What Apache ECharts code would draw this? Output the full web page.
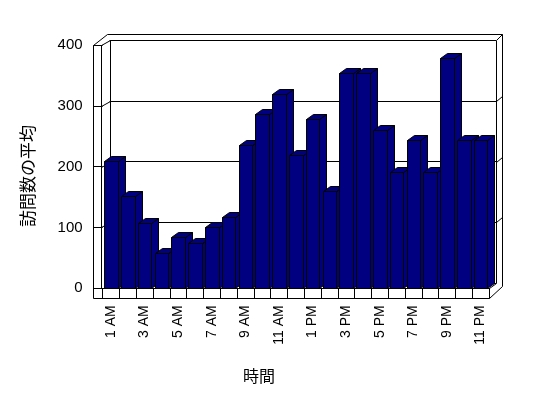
<!DOCTYPE html>
<html><head><meta charset="utf-8">
<script src="https://cdn.jsdelivr.net/npm/echarts@6/dist/echarts.min.js"></script>
<style>html,body{margin:0;padding:0;background:#fff}#c{width:548px;height:398px}</style>
</head><body><div id="c"></div>
<script>
// ---- data ----
const categories = ['1 AM','2 AM','3 AM','4 AM','5 AM','6 AM','7 AM','8 AM','9 AM','10 AM','11 AM','12 PM',
  '1 PM','2 PM','3 PM','4 PM','5 PM','6 PM','7 PM','8 PM','9 PM','10 PM','11 PM'];
const visits = [210,151,108,58,84,74,100,117,235,286,319,219,278,160,354,354,260,192,243,192,378,243,243];
const yTicks = [0,100,200,300,400];
const xTitle = '時間';
const yTitle = '訪問数の平均';

// ---- layout ----
const GL = 102.6, GW = 386.4, GT = 45, GH = 243.3;
const DX = 7, DY = 5;          // depth offset of bars / back wall
const OUTX = 93, FLOORB = 298; // outer wall / floor
const NAVY = '#000080';
const NUMFONT = '"Liberation Sans", Arial, sans-serif';
const JPFONT = '"Noto Sans CJK JP", sans-serif';

const chart = echarts.init(document.getElementById('c'), null, {renderer:'canvas'});
const px = v => Math.round(v) + 0.5;

const option = {
  animation: false,
  backgroundColor: '#fff',
  grid: [
    {left: GL, top: GT, width: GW, height: GH, containLabel: false, outerBoundsMode: 'none'},
    {left: GL + DX, top: GT - DY, width: GW, height: GH, containLabel: false, outerBoundsMode: 'none'}
  ],
  xAxis: [
    {type: 'category', gridIndex: 0, data: categories, boundaryGap: true,
     axisLine: {show: true, lineStyle: {color: '#000', width: 1}},
     axisTick: {show: true, length: 10, interval: 0, lineStyle: {color: '#000'}},
     axisLabel: {interval: 1, rotate: 90, margin: 17, color: '#000', fontSize: 14, fontFamily: NUMFONT},
     splitLine: {show: false}},
    {type: 'value', gridIndex: 1, show: false, min: 0, max: 1}
  ],
  yAxis: [
    {type: 'value', gridIndex: 0, min: yTicks[0], max: yTicks[yTicks.length-1], interval: 100,
     axisLine: {show: false},
     axisTick: {show: true, length: 9, lineStyle: {color: '#000'}},
     axisLabel: {margin: 20, color: '#000', fontSize: 15, fontFamily: NUMFONT},
     splitLine: {show: false}},
    {type: 'value', gridIndex: 1, min: yTicks[0], max: yTicks[yTicks.length-1], interval: 100,
     axisLine: {show: false}, axisTick: {show: false}, axisLabel: {show: false},
     splitLine: {show: true, lineStyle: {color: '#000', width: 1}}}
  ],
  series: [{
    type: 'custom', xAxisIndex: 0, yAxisIndex: 0, z: 5,
    data: visits.map((v, i) => [i, v]),
    encode: {x: 0, y: 1},
    renderItem: function (params, api) {
      const i = api.value(0), v = api.value(1);
      const topP = api.coord([i, v]);
      const baseP = api.coord([i, 0]);
      const bw = api.size([1, 0])[0] * 0.8;
      const l = px(topP[0] - bw / 2), r = px(topP[0] + bw / 2);
      const t = px(topP[1]), b = px(baseP[1]);
      const st = {fill: NAVY, stroke: '#000', lineWidth: 1};
      return {type: 'group', children: [
        {type: 'polygon', shape: {points: [[r, t], [r + DX, t - DY], [r + DX, b - DY], [r, b]]}, style: st},
        {type: 'polygon', shape: {points: [[l, t], [l + DX, t - DY], [r + DX, t - DY], [r, t]]}, style: st},
        {type: 'rect', shape: {x: l, y: t, width: r - l, height: b - t}, style: st}
      ]};
    }
  }]
};
chart.setOption(option);

// frame drawn from the axes' pixel positions
const fp = v => chart.convertToPixel({gridIndex: 0}, [0, v]);
const bp = v => chart.convertToPixel({gridIndex: 1}, [0, v]);
const gRight = GL + GW, bLeft = GL + DX, bRight = GL + GW + DX;
const yTop = chart.convertToPixel({yAxisIndex: 0}, 400);
const yZero = chart.convertToPixel({yAxisIndex: 0}, 0);
const byTop = chart.convertToPixel({yAxisIndex: 1}, 400);
const byZero = chart.convertToPixel({yAxisIndex: 1}, 0);
const outR = bRight + 6;
const L = pts => ({type: 'polyline', z: 1, shape: {points: pts.map(p => [px(p[0]), px(p[1])])},
  style: {stroke: '#000', lineWidth: 1, fill: null}});
const inL = GL - 1.2;
const g = [
  L([[OUTX, FLOORB], [OUTX, yTop], [OUTX + 14, byTop - 6], [outR, byTop - 6], [outR, FLOORB - 12], [gRight, FLOORB], [OUTX, FLOORB]]),
  L([[OUTX, yTop], [inL, yTop], [inL, yZero], [gRight, yZero]]),
  L([[inL, yTop], [bLeft, byTop]]),
  L([[bLeft, byTop], [bLeft, byZero]]),
  L([[bRight, byTop], [bRight, byZero]]),
  L([[bRight, byTop], [outR, byTop - 6]]),
  L([[gRight, yZero], [gRight, FLOORB]]),
  L([[gRight, yZero], [bRight, byZero]]),
];
yTicks.slice(1, -1).forEach(v => {
  const yf = chart.convertToPixel({yAxisIndex: 0}, v);
  const yb = chart.convertToPixel({yAxisIndex: 1}, v);
  g.push(L([[inL, yf], [bLeft, yb]]));
  g.push(L([[bRight, yb], [outR, yb - 5]]));
});
g.push({type: 'text', z: 10, x: 259, y: 376, style: {text: xTitle, align: 'center', verticalAlign: 'middle',
  font: '16px ' + JPFONT, fill: '#000'}});
g.push({type: 'text', z: 10, x: 28, y: 176, rotation: Math.PI / 2, style: {text: yTitle, align: 'center',
  verticalAlign: 'middle', font: '17px ' + JPFONT, fill: '#000'}});
chart.setOption({graphic: {elements: g}});
</script></body></html>
